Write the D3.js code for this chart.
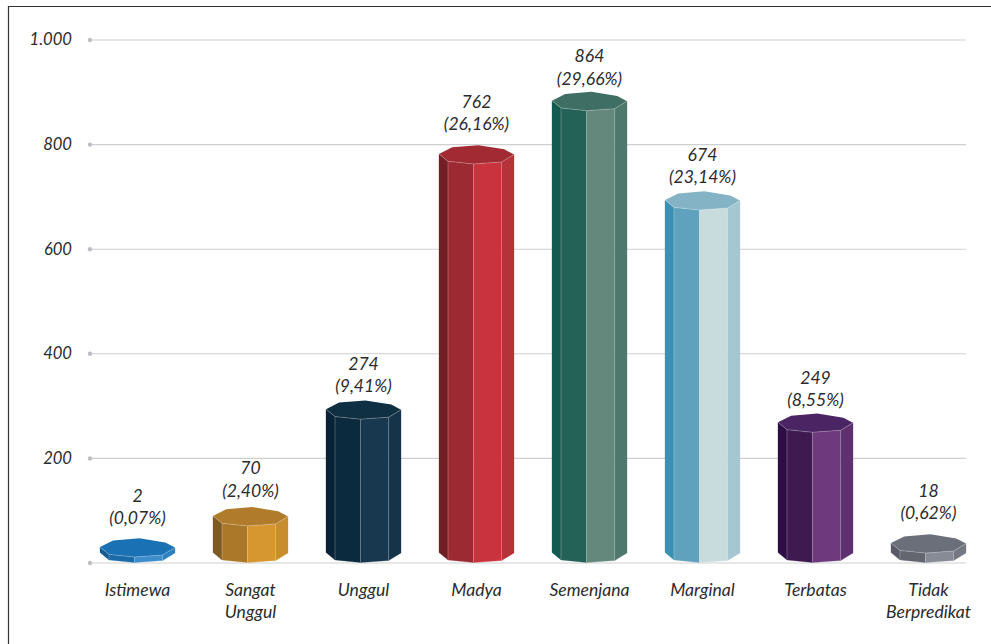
<!DOCTYPE html>
<html><head><meta charset="utf-8">
<script src="https://cdn.jsdelivr.net/npm/d3@7"></script>
<style>
html,body{margin:0;padding:0;background:#fff;overflow:hidden}
svg{display:block}
text{font-family:"Lato",sans-serif;font-style:italic;font-size:17.6px;fill:#2b2b2e}
.tick text{font-size:16.6px}
</style></head><body><svg id="c" width="991" height="644"></svg>
<script>
const categories=[["Istimewa"],["Sangat","Unggul"],["Unggul"],["Madya"],["Semenjana"],["Marginal"],["Terbatas"],["Tidak","Berpredikat"]];
const values=[2,70,274,762,864,674,249,18];
const percents=[0.07,2.40,9.41,26.16,29.66,23.14,8.55,0.62];
const yTicks=[0,200,400,600,800,1000];

// style: top, then four visible faces left to right
const palettes=[
["#1a72b5","#175a8f","#1a6aa8","#3d8dcc","#2f80c0"],
["#b07c2c","#7c5a22","#ab7829","#d69731","#c78d2f"],
["#0f2f42","#0a2236","#0c2a3e","#17384f","#15344a"],
["#a12a33","#711e25","#9c2a32","#c9333e","#b43238"],
["#3f6e64","#155a50","#246258","#64897c","#4f786c"],
["#85b3c6","#3b91b2","#60a2bd","#c8dcdd","#a5c7d2"],
["#4b2464","#2e0c45","#3f1a50","#6e3a7d","#5e3070"],
["#6b6f79","#585a66","#63666f","#878b96","#757883"]];
// layout: gap from the bar's front top edge to the percent line centre
const labelGaps=[39,35.5,33,40,32,33,32,40];
const minFrontHeight=5.5;
// octagon outline, as dx (fraction of bar width) and dy (px) from the front-top vertex level
const oct=[[-.5,-10],[-.38,-2.6],[-.04,0],[.335,-2],[.5,-9.5],[.37,-14.6],[.025,-18.8],[-.325,-16.6]];

const svg=d3.select("#c");
const loc=d3.formatLocale({decimal:",",thousands:".",grouping:[3],currency:["",""]});
const x=d3.scaleBand().domain(d3.range(values.length)).range([100,966]).paddingInner(38/113).paddingOuter(0);
const y=d3.scaleLinear().domain([0,1000]).range([562.5,39.5]);

svg.append("path").attr("d","M8.5,644V6.5H991").attr("fill","none").attr("stroke","#333").attr("stroke-width",1.2);

const axis=svg.append("g").attr("transform","translate(90,0)")
 .call(d3.axisLeft(y).tickValues(yTicks).tickSize(0).tickPadding(18).tickFormat(d=>d?loc.format(",")(d):""));
axis.select(".domain").remove();
axis.selectAll("text").attr("font-size",null).attr("font-family",null);
axis.selectAll(".tick").append("line").attr("x1",0).attr("x2",876).attr("stroke","#cfcfd1").attr("stroke-width",1.1);
axis.selectAll(".tick").append("circle").attr("r",2.2).attr("fill","#bdbdc3");

const line=d3.line();
const bars=svg.selectAll("g.bar").data(values).join("g").attr("class","bar");
bars.each(function(v,i){
  const g=d3.select(this), cx=x(i)+x.bandwidth()/2, w=x.bandwidth(), base=y(0);
  const top=Math.min(y(v),base-minFrontHeight);
  const T=oct.map(p=>[cx+p[0]*w,top+p[1]]), B=oct.map(p=>[cx+p[0]*w,base+p[1]]);
  const pal=palettes[i];
  for(let k=0;k<4;k++){
    g.append("path").attr("d",line([T[k],T[k+1],B[k+1],B[k]])+"Z").attr("fill",pal[k+1]).attr("stroke",pal[k+1]).attr("stroke-width",.3);
  }
  for(let k=1;k<4;k++){
    g.append("path").attr("d",line([T[k],B[k]])).attr("stroke","#fff").attr("stroke-opacity",.35).attr("stroke-width",.7);
  }
  g.append("path").attr("d",line(T)+"Z").attr("fill",pal[0]);
  g.append("path").attr("d",line(T.slice(0,5))).attr("fill","none").attr("stroke","#fff").attr("stroke-opacity",.35).attr("stroke-width",.7);
  const py=top-labelGaps[i];
  const fmt=loc.format(",.2f");
  g.append("text").attr("x",cx).attr("y",py-22.5).attr("dy","0.35em").attr("text-anchor","middle").text(v);
  g.append("text").attr("x",cx).attr("y",py).attr("dy","0.35em").attr("text-anchor","middle").text("("+fmt(percents[i])+"%)");
  categories[i].forEach((t,j)=>g.append("text").attr("x",cx).attr("y",590+j*22).attr("dy","0.35em").attr("text-anchor","middle").text(t));
});
</script></body></html>
